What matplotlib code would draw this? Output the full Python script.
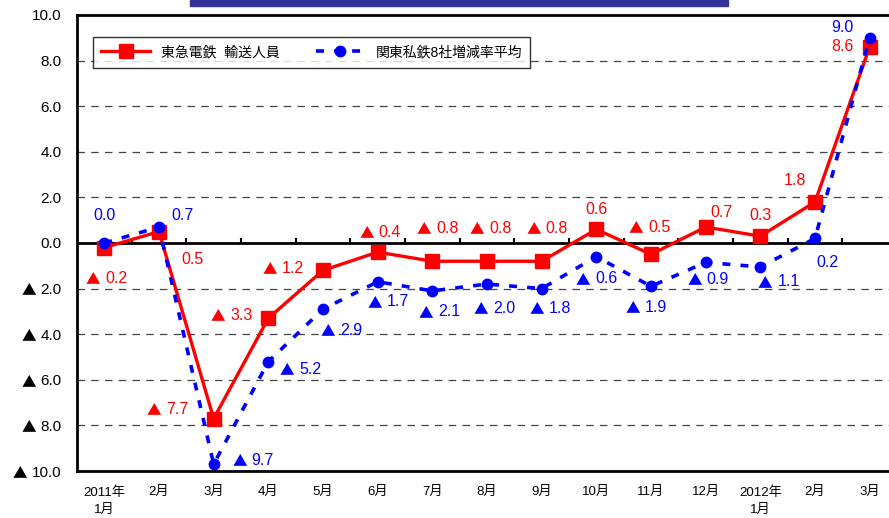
import numpy as np
import matplotlib.pyplot as plt
from matplotlib.patches import Rectangle

plt.rcParams['font.family'] = ['Liberation Sans', 'Noto Sans CJK JP', 'DejaVu Sans']

# Datos
meses = ['2011年\n1月', '2月', '3月', '4月', '5月', '6月', '7月', '8月', '9月',
         '10月', '11月', '12月', '2012年\n1月', '2月', '3月']
tokyu = [-0.2, 0.5, -7.7, -3.3, -1.2, -0.4, -0.8, -0.8, -0.8, 0.6, -0.5, 0.7, 0.3, 1.8, 8.6]
kanto = [0.0, 0.7, -9.7, -5.2, -2.9, -1.7, -2.1, -1.8, -2.0, -0.6, -1.9, -0.85, -1.05, 0.2, 9.0]
tokyu_txt = ['▲ 0.2', '0.5', '▲ 7.7', '▲ 3.3', '▲ 1.2', '▲ 0.4', '▲ 0.8', '▲ 0.8', '▲ 0.8',
             '0.6', '▲ 0.5', '0.7', '0.3', '1.8', '8.6']
kanto_txt = ['0.0', '0.7', '▲ 9.7', '▲ 5.2', '▲ 2.9', '▲ 1.7', '▲ 2.1', '▲ 2.0', '▲ 1.8',
             '▲ 0.6', '▲ 1.9', '▲ 0.9', '▲ 1.1', '0.2', '9.0']
yticks = [10, 8, 6, 4, 2, 0, -2, -4, -6, -8, -10]

# desplazamientos de etiquetas (px)
off_r = [(4, -31), (33, -28), (-45, 9), (-35, 3), (-38, 2), (4, 20), (7, 33), (5, 33), (7, 33),
         (0, 20), (0, 27), (16, 15), (0, 21), (-20, 21), (-27, 0)]
off_b = [(0, 27), (24, 12), (41, 4), (34, -8), (20, -21), (12, -20), (9, -21), (9, -24), (10, -20),
         (2, -22), (-3, -21), (4, -17), (20, -15), (12, -24), (-27, 10)]

ROJO = '#ff0000'
AZUL = '#0000ff'
TRI = 'Noto Sans CJK JP'


def etiqueta(ax, xv, yv, txt, dx, dy, color):
    # el triángulo va en una fuente CJK para que salga grande
    if txt.startswith('▲'):
        num = txt[1:].strip()
        ax.annotate('▲', (xv, yv), xytext=((dx - 15) * 0.72, (dy - 1) * 0.72),
                    textcoords='offset points', ha='center', va='center', color=color,
                    fontsize=10.5, family=TRI)
        ax.annotate(num, (xv, yv), xytext=((dx - 3) * 0.72, dy * 0.72),
                    textcoords='offset points', ha='left', va='center', color=color,
                    fontsize=11.5)
    else:
        ax.annotate(txt, (xv, yv), xytext=(dx * 0.72, dy * 0.72),
                    textcoords='offset points', ha='center', va='center', color=color,
                    fontsize=11.5)


fig = plt.figure(figsize=(8.89, 5.18), dpi=100)
ax = fig.add_axes([77/889, 47/518, 820/889, 456/518])
x = np.arange(len(meses))

# rejilla
for v in yticks:
    if v not in (0, 10, -10):
        ax.axhline(v, color='#444444', lw=0.9, ls=(0, (6, 5)), zorder=1)
ax.axhline(0, color='black', lw=2, zorder=2)
ax.vlines(x[:-1] + 0.5, 0, 0.22, color='black', lw=1.5, zorder=2)

ax.plot(x, tokyu, color=ROJO, lw=2.4, marker='s', ms=10, zorder=4,
        label='東急電鉄  輸送人員')
ax.plot(x, kanto, color=AZUL, lw=2.6, ls=(0, (2.2, 2.8)), marker='o', ms=7.5, zorder=5,
        label='関東私鉄8社増減率平均')

for i in range(len(x)):
    etiqueta(ax, x[i], tokyu[i], tokyu_txt[i], off_r[i][0], off_r[i][1], ROJO)
    etiqueta(ax, x[i], kanto[i], kanto_txt[i], off_b[i][0], off_b[i][1], AZUL)

ax.set_xlim(-0.5, len(x) - 0.5)
ax.set_ylim(-10, 10)
ax.set_yticks(yticks)
ax.set_yticklabels([f'{abs(v):.1f}' for v in yticks], fontsize=11)
ax.set_xticks(x)
ax.set_xticklabels(meses, fontsize=9.5, linespacing=1.5, va='top')
ax.tick_params(axis='x', length=0, pad=11)
ax.tick_params(axis='y', length=0, pad=11)
for s in ['top', 'left', 'bottom']:
    ax.spines[s].set_linewidth(2)
ax.spines['right'].set_visible(False)

leg = ax.legend(loc='upper left', bbox_to_anchor=(0.0195, 0.952), ncol=2, fontsize=10,
                frameon=True, fancybox=False, edgecolor='black', handlelength=3.5,
                columnspacing=2.6, borderaxespad=0, borderpad=0.6)
leg.get_frame().set_linewidth(1)

# banda azul superior
fig.patches.append(Rectangle((190/889, 1 - 6/518), 538/889, 6/518, transform=fig.transFigure,
                             color='#333399', zorder=10))

# triángulos de los valores negativos del eje y
fig.canvas.draw()
for v, t in zip(yticks, ax.get_yticklabels()):
    if v < 0:
        bb = t.get_window_extent()
        fig.text((bb.x0 - 12) / 889, (bb.y0 + bb.y1) / 2 / 518 - 0.5/518, '▲', ha='center',
                 va='center', fontsize=10.5, family=TRI, color='black')

plt.savefig('out.png', dpi=100)
